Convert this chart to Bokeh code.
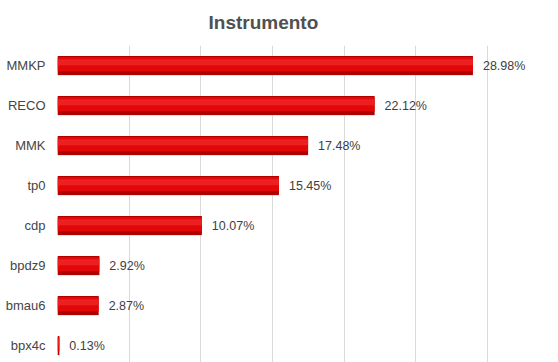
from bokeh.plotting import figure
from bokeh.models import Range1d, FixedTicker, ColumnDataSource
from bokeh.transform import dodge
from bokeh.core.properties import value
from bokeh.embed import file_html
from bokeh.resources import INLINE

categories = ["MMKP", "RECO", "MMK", "tp0", "cdp", "bpdz9", "bmau6", "bpx4c"]
values = [28.98, 22.12, 17.48, 15.45, 10.07, 2.92, 2.87, 0.13]
labels = [f"{v:.2f}%" for v in values]
grid_ticks = [0, 5, 10, 15, 20, 25, 30, 35]

n = len(categories)
ypos = list(range(n - 1, -1, -1))
src = ColumnDataSource(dict(y=ypos, v=values, lab=labels, cat=categories))

p = figure(width=558, height=362, output_backend="svg", toolbar_location=None,
           x_range=Range1d(0, 34.88), y_range=Range1d(-0.425, 7.5),
           min_border_left=57, min_border_right=1, min_border_top=45, min_border_bottom=0,
           title="Instrumento")
p.outline_line_color = None
p.background_fill_color = "white"
p.border_fill_color = "white"

p.title.text_font = "Liberation Sans"
p.title.text_font_size = "19px"
p.title.text_font_style = "bold"
p.title.text_color = "#505050"
p.title.align = "left"
p.title.offset = 151
p.title.vertical_align = "top"
p.title.standoff = 21

p.xaxis.visible = False
p.xgrid.ticker = FixedTicker(ticks=grid_ticks)
p.xgrid.grid_line_color = "#d9d9d9"
p.ygrid.grid_line_color = None

ax = p.yaxis[0]
ax.ticker = FixedTicker(ticks=ypos)
ax.major_label_overrides = {y: c for y, c in zip(ypos, categories)}
ax.axis_line_color = None
ax.major_tick_line_color = None
ax.minor_tick_line_color = None
ax.major_tick_out = 0
ax.major_label_standoff = 12
ax.major_label_text_font = "Liberation Sans"
ax.major_label_text_font_size = "13px"
ax.major_label_text_color = "#454545"

# 3D-like bar: soft shadow, dark base, bright body, soft highlight
p.hbar(y=dodge("y", -0.02, range=p.y_range), right="v", left=0, height=0.475, source=src,
       fill_color="#9a9a9a", fill_alpha=0.35, line_color=None)
p.hbar(y="y", right="v", left=0, height=0.475, source=src,
       fill_color="#b00000", line_color=None)
p.hbar(y=dodge("y", 0.035, range=p.y_range), right="v", left=0, height=0.36, source=src,
       fill_color="#e2080a", line_color=None)
p.hbar(y=dodge("y", 0.08, range=p.y_range), right="v", left=0, height=0.15, source=src,
       fill_color="#f53030", fill_alpha=0.6, line_color=None)

p.text(x="v", y="y", text="lab", source=src, x_offset=10,
       text_baseline="middle", text_align="left",
       text_font=value("Liberation Sans"), text_font_size="12.5px",
       text_color="#404040")

open("out.html", "w").write(file_html(p, INLINE))
